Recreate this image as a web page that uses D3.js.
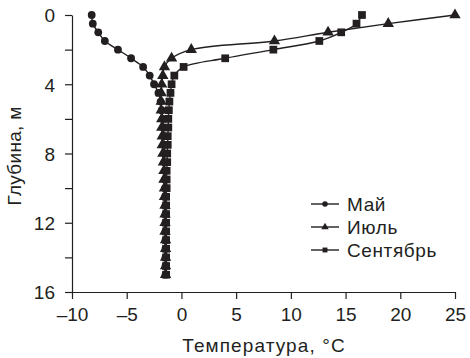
<!DOCTYPE html>
<html lang="ru">
    <head>
        <meta charset="utf-8">
        <title>Температура по глубине</title>
        <script type="text/javascript" src="https://cdn.jsdelivr.net/npm/d3@7"></script>
        <style>
            body { margin: 0; background: #fff; }
            text { font-family: "Liberation Sans", Arial, sans-serif; fill: #231f20; }
        </style>
    </head>
    <body>
        <script type="text/javascript">
            // depths are shared by all three months (every 0.5 m)
            var depths = [0, 0.5, 1, 1.5, 2, 2.5, 3, 3.5, 4, 4.5, 5, 5.5, 6, 6.5, 7, 7.5,
                          8, 8.5, 9, 9.5, 10, 10.5, 11, 11.5, 12, 12.5, 13, 13.5, 14, 14.5, 15];

            var may = [-8.2, -8.1, -7.6, -7.0, -5.8, -4.6, -3.5, -2.9, -2.5, -2.1, -1.9, -1.8, -1.7, -1.65, -1.6, -1.6,
                       -1.55, -1.55, -1.5, -1.5, -1.5, -1.5, -1.45, -1.45, -1.45, -1.45, -1.45, -1.45, -1.45, -1.45, -1.45];
            var july = [25, 18.9, 13.4, 8.5, 0.9, -0.9, -1.55, -1.7, -1.8, -1.85, -1.85, -1.85, -1.8, -1.8, -1.75, -1.75,
                        -1.7, -1.65, -1.6, -1.6, -1.55, -1.55, -1.5, -1.5, -1.5, -1.5, -1.45, -1.45, -1.45, -1.45, -1.45];
            var september = [16.5, 16.0, 14.6, 12.6, 8.4, 4.0, 0.2, -0.65, -0.9, -1.0, -1.1, -1.15, -1.2, -1.2, -1.25, -1.25,
                             -1.3, -1.3, -1.35, -1.35, -1.35, -1.4, -1.4, -1.4, -1.4, -1.4, -1.4, -1.4, -1.4, -1.4, -1.4];

            var seriesNames = ["Май", "Июль", "Сентябрь"];
            var xTicks = [-10, -5, 0, 5, 10, 15, 20, 25];
            var yTicks = [0, 2, 4, 6, 8, 10, 12, 14, 16];
            var yLabelTicks = [0, 4, 8, 12, 16];

            var w = 470;
            var h = 358;
            // plot area edges (don't call these top/left: window.top is read-only)
            var padL = 72, padR = 455, padT = 15, padB = 292;

            var svg = d3.select("body").append("svg").attr("width", w).attr("height", h);

            var x = d3.scaleLinear().domain([-10, 25]).range([padL, padR]);
            var y = d3.scaleLinear().domain([0, 16]).range([padT, padB]);

            var fmt = function(d){ return d < 0 ? "\u2013" + Math.abs(d) : String(d); };

            // bottom axis
            var xAxis = svg.append("g")
                .attr("transform", "translate(0," + padB + ")")
                .call(d3.axisBottom(x).tickValues(xTicks).tickSize(7).tickSizeOuter(0).tickPadding(9).tickFormat(fmt));

            // left axis, labels only every 4 m
            var yAxis = svg.append("g")
                .attr("transform", "translate(" + padL + ",0)")
                .call(d3.axisLeft(y).tickValues(yTicks).tickSize(7).tickSizeOuter(0).tickPadding(10)
                    .tickFormat(function(d){ return yLabelTicks.indexOf(d) >= 0 ? d : ""; }));

            svg.selectAll(".domain, .tick line").attr("stroke", "#231f20").attr("stroke-width", 1.2);
            svg.selectAll(".tick text").attr("font-size", "19px").attr("font-family", "Liberation Sans, Arial, sans-serif").attr("fill", "#231f20");
            yAxis.selectAll(".tick text").attr("dy", "0.36em");

            // axis titles
            svg.append("text")
                .attr("x", 264)
                .attr("y", 352)
                .attr("text-anchor", "middle")
                .attr("font-size", "19px")
                .attr("letter-spacing", "1.1px")
                .text("Температура, °C");

            svg.append("text")
                .attr("transform", "translate(21,156) rotate(-90)")
                .attr("text-anchor", "middle")
                .attr("font-size", "19px")
                .attr("letter-spacing", "0.3px")
                .text("Глубина, м");

            var series = [may, july, september];
            var symbols = [d3.symbolCircle, d3.symbolTriangle, d3.symbolSquare];
            var sizes = [48, 56, 60];

            var line = d3.line()
                .x(function(d){ return x(d[0]); })
                .y(function(d){ return y(d[1]); })
                .curve(d3.curveCatmullRom.alpha(0.5));

            series.forEach(function(vals, s){
                var pts = vals.map(function(v, i){ return [v, depths[i]]; });
                var g = svg.append("g");
                g.append("path")
                    .attr("d", line(pts))
                    .attr("fill", "none")
                    .attr("stroke", "#231f20")
                    .attr("stroke-width", 1.4);
                g.selectAll("path.mark")
                    .data(pts)
                    .enter()
                    .append("path")
                    .attr("class", "mark")
                    .attr("transform", function(d){ return "translate(" + x(d[0]) + "," + y(d[1]) + ")"; })
                    .attr("d", d3.symbol().type(symbols[s]).size(sizes[s]))
                    .attr("fill", "#231f20");
            });

            // legend
            var legend = svg.append("g");
            seriesNames.forEach(function(name, i){
                var ly = 204 + i * 23;
                legend.append("line")
                    .attr("x1", 311).attr("x2", 339)
                    .attr("y1", ly).attr("y2", ly)
                    .attr("stroke", "#231f20").attr("stroke-width", 1.4);
                legend.append("path")
                    .attr("transform", "translate(325," + ly + ")")
                    .attr("d", d3.symbol().type(symbols[i]).size(24))
                    .attr("fill", "#231f20");
                legend.append("text")
                    .attr("x", 347)
                    .attr("y", ly)
                    .attr("dy", "0.36em")
                    .attr("font-size", "19px")
                    .attr("letter-spacing", "0.6px")
                    .text(name);
            });
        </script>
    </body>
</html>
